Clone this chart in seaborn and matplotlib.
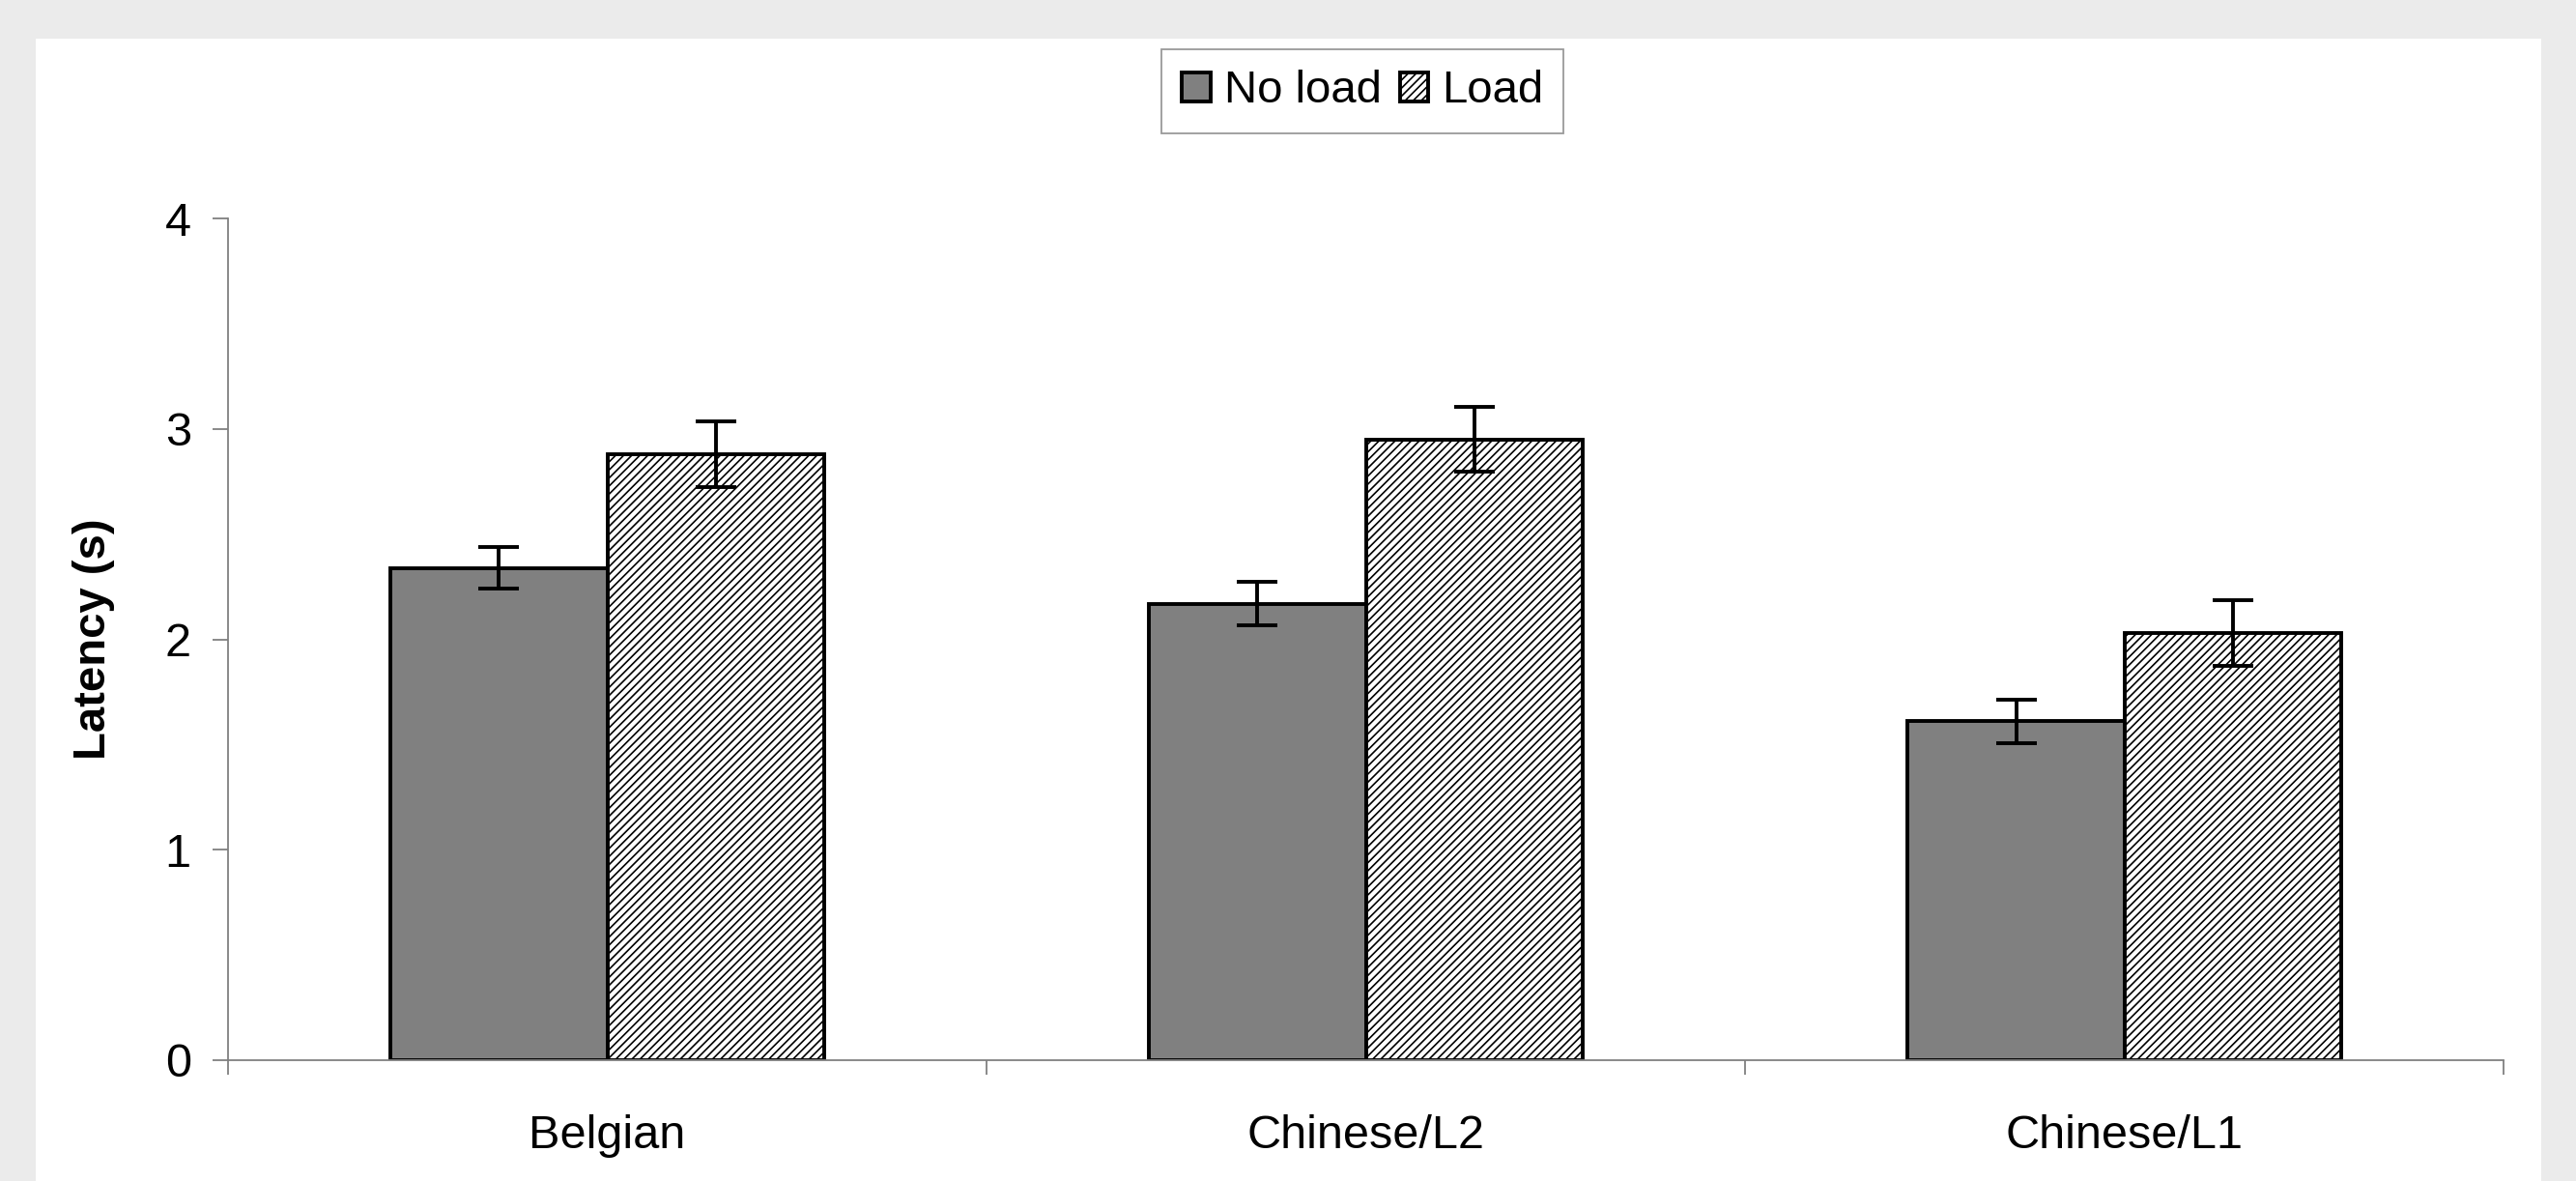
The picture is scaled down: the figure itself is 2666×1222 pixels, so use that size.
import matplotlib
matplotlib.use('Agg')

import numpy as np
import pandas as pd
import seaborn as sns
import matplotlib.pyplot as plt
from matplotlib.patches import Patch, Rectangle

# values
groups = ['Belgian', 'Chinese/L2', 'Chinese/L1']
conditions = ['No load', 'Load']
latency_noload = [2.34, 2.17, 1.61]
latency_load = [2.88, 2.95, 2.03]
err_noload = [0.097, 0.105, 0.104]
err_load = [0.157, 0.155, 0.155]
y_ticks = [0, 1, 2, 3, 4]

df = pd.DataFrame({
    'group': groups * 2,
    'condition': ['No load'] * 3 + ['Load'] * 3,
    'latency': latency_noload + latency_load,
})
errs = {'No load': err_noload, 'Load': err_load}

sns.set_style('white')
plt.rcParams['font.family'] = ['Liberation Sans', 'DejaVu Sans']
plt.rcParams['text.color'] = 'black'
plt.rcParams['axes.labelcolor'] = 'black'
plt.rcParams['xtick.color'] = 'black'
plt.rcParams['ytick.color'] = 'black'
plt.rcParams['hatch.color'] = '#959595'
plt.rcParams['hatch.linewidth'] = 1.2

fig = plt.figure(figsize=(26.66, 12.22), dpi=100, facecolor='#ebebeb')
# white panel inside the grey frame
fig.patches.append(Rectangle((0.0139, 0.0), 0.9726, 0.967, transform=fig.transFigure,
                             facecolor='white', edgecolor='none', zorder=-5))
ax = fig.add_axes([0.0885, 0.1023, 0.8835, 0.7127])
ax.set_facecolor('white')

sns.barplot(data=df, x='group', y='latency', hue='condition', order=groups,
            hue_order=conditions, palette={'No load': '#808080', 'Load': 'white'},
            errorbar=None, width=0.572, edgecolor='black', linewidth=2.8,
            legend=False, ax=ax)

for cont, cond in zip(ax.containers, conditions):
    xs = [p.get_x() + p.get_width() / 2 for p in cont.patches]
    hs = [p.get_height() for p in cont.patches]
    if cond == 'Load':
        for p in cont.patches:
            p.set_hatch('////')
    ax.errorbar(xs, hs, yerr=errs[cond], fmt='none', ecolor='black',
                elinewidth=2.8, capsize=15, capthick=2.8, zorder=5)

ax.set_ylim(0, 4)
ax.set_xlim(-0.5, 2.5)
ax.set_yticks(y_ticks)
ax.set_xlabel('')
ax.set_ylabel('Latency (s)', fontsize=34, fontweight='bold')
ax.yaxis.set_label_coords(-0.0497, 0.5)

for s in ['top', 'right']:
    ax.spines[s].set_visible(False)
for s in ['left', 'bottom']:
    ax.spines[s].set_color('#808080')
    ax.spines[s].set_linewidth(1.3)

ax.tick_params(axis='y', direction='out', length=11.5, width=1.3, color='#808080',
               labelsize=35, pad=16, left=True)
ax.tick_params(axis='x', which='major', length=0, labelsize=35, pad=40)
ax.set_xticks([-0.5, 0.5, 1.5, 2.5], minor=True)
ax.tick_params(axis='x', which='minor', direction='out', length=11, width=1.3,
               color='#808080', bottom=True)

handles = [Patch(facecolor='#808080', edgecolor='black', linewidth=2.8),
           Patch(facecolor='white', edgecolor='black', linewidth=2.8, hatch='////')]
leg = fig.legend(handles, conditions, loc='center', bbox_to_anchor=(0.529, 0.9227),
                 ncol=2, fontsize=34, frameon=True, fancybox=False,
                 handlelength=0.62, handleheight=0.62, handletextpad=0.3,
                 columnspacing=0.4, borderpad=0.45)
leg.get_frame().set_edgecolor('#808080')
leg.get_frame().set_linewidth(1.3)

fig.savefig('out.png', dpi=100, facecolor=fig.get_facecolor())
